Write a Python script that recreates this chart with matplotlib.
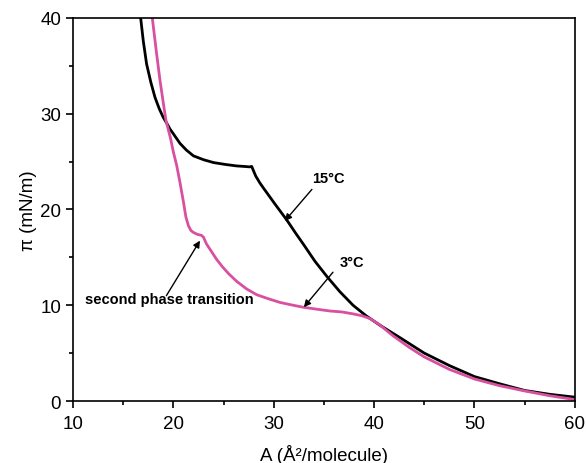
import numpy as np
import matplotlib
matplotlib.use('Agg')
from matplotlib import pyplot as plt
from matplotlib.ticker import MultipleLocator

# isotherm at 15 C
a_15 = [16.74, 17.0, 17.33, 17.75, 18.17, 18.6, 19.0, 19.4, 19.66, 20.0,
        20.66, 21.3, 22.0, 23.0, 24.0, 25.2, 26.3, 27.0, 27.6, 27.8, 28.2,
        28.6, 29.0, 30.1, 31.3, 32.2, 33.0, 34.1, 35.3, 36.6, 37.9, 39.2,
        40.6, 42.6, 45.0, 47.5, 50.0, 52.5, 55.0, 57.5, 60.0]
pi_15 = [40.0, 37.6, 35.2, 33.3, 31.7, 30.5, 29.6, 28.9, 28.4, 27.9,
         26.9, 26.2, 25.6, 25.2, 24.9, 24.7, 24.55, 24.5, 24.45, 24.5, 23.5,
         22.8, 22.2, 20.6, 18.9, 17.5, 16.3, 14.6, 13.0, 11.4, 10.0, 8.9,
         7.9, 6.6, 5.0, 3.7, 2.55, 1.8, 1.1, 0.7, 0.4]

# isotherm at 3 C
a_3 = [17.9, 18.3, 18.67, 19.0, 19.26, 19.7, 20.0, 20.33, 20.66, 21.0,
       21.25, 21.5, 21.75, 22.0, 22.4, 22.8, 23.0, 23.3, 23.8, 24.3, 24.9,
       25.5, 26.3, 27.3, 28.3, 29.4, 30.6, 31.7, 32.9, 34.2, 35.6, 36.8,
       37.9, 38.8, 39.6, 40.5, 41.9, 43.5, 45.0, 47.5, 50.0, 52.5, 55.0,
       57.5, 60.0]
pi_3 = [40.0, 36.5, 33.45, 31.1, 29.3, 27.5, 26.0, 24.6, 22.8, 20.8,
        19.2, 18.3, 17.8, 17.6, 17.4, 17.3, 17.1, 16.4, 15.6, 14.8, 14.0,
        13.3, 12.5, 11.7, 11.1, 10.7, 10.3, 10.05, 9.8, 9.6, 9.4, 9.3,
        9.1, 8.9, 8.6, 8.0, 6.8, 5.6, 4.6, 3.3, 2.3, 1.6, 1.05,
        0.55, 0.15]

plt.rcParams['font.family'] = ['Liberation Sans', 'DejaVu Sans']

fig = plt.figure(figsize=(5.86, 4.64), dpi=100)
ax = fig.add_axes([0.1246, 0.1336, 0.8564, 0.8255])

ax.plot(a_15, pi_15, color='black', lw=2.0, solid_joinstyle='round')
ax.plot(a_3, pi_3, color='#d8509f', lw=2.0, solid_joinstyle='round')

ax.set_xlim(10, 60)
ax.set_ylim(0, 40)
ax.xaxis.set_major_locator(MultipleLocator(10))
ax.xaxis.set_minor_locator(MultipleLocator(5))
ax.yaxis.set_major_locator(MultipleLocator(10))
ax.yaxis.set_minor_locator(MultipleLocator(5))
ax.tick_params(which='both', direction='out', top=False, right=False,
               labelsize=13.5, width=1.2)
ax.tick_params(which='major', length=5)
ax.tick_params(which='minor', length=3)
ax.tick_params(axis='x', pad=5)
for s in ax.spines.values():
    s.set_linewidth(1.2)

ax.set_xlabel('A (Å²/molecule)', fontsize=13.5, labelpad=9)
ax.set_ylabel('π (mN/m)', fontsize=13.5, labelpad=2)

# labels and their pointer arrows
arr = dict(arrowstyle='-|>', color='black', lw=1.0, mutation_scale=10,
           shrinkA=0, shrinkB=0)
lbl = dict(fontsize=10.5, fontweight='bold', ha='left', va='baseline')

ax.text(33.8, 22.85, '15°C', **lbl)
ax.annotate('', xy=(31.1, 18.8), xytext=(33.8, 22.1), arrowprops=arr)

ax.text(36.6, 14.1, '3°C', **lbl)
ax.annotate('', xy=(33.0, 9.8), xytext=(35.9, 13.45), arrowprops=arr)

ax.text(11.2, 10.2, 'second phase transition', **lbl)
ax.annotate('', xy=(22.65, 16.75), xytext=(19.3, 11.0), arrowprops=arr)

fig.savefig('out.png', dpi=100)
